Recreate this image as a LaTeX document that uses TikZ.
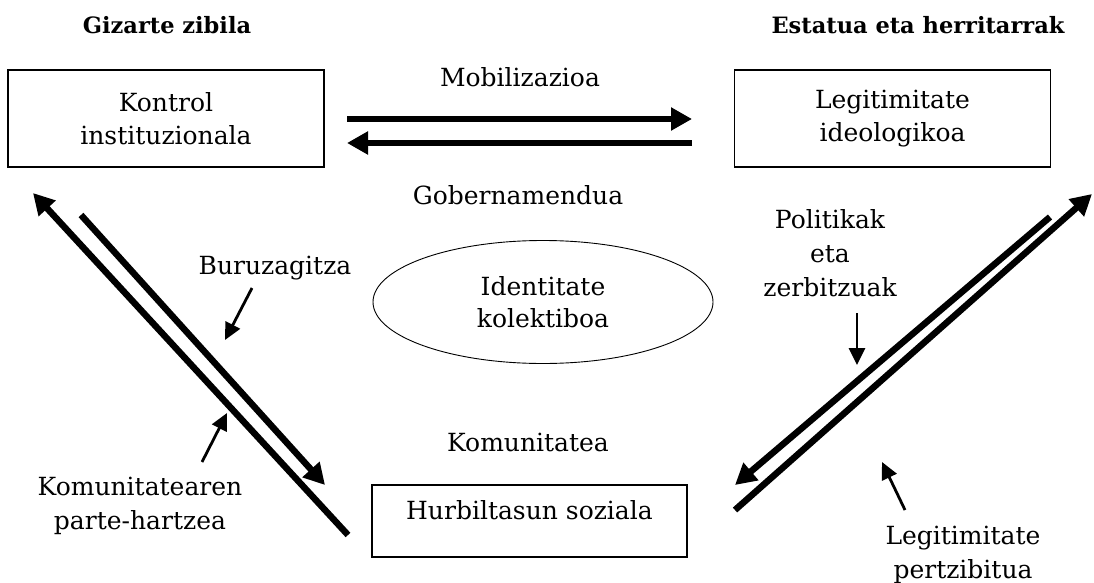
\documentclass[tikz,border=0pt]{standalone}
\usepackage{fontspec}
\setmainfont{DejaVu Serif}
\usetikzlibrary{arrows.meta,shapes.geometric}
\begin{document}
\begin{tikzpicture}[x=1pt,y=-1pt,
  lbl/.style={font=\fontsize{25}{34}\selectfont, align=center, inner sep=0pt},
  headtxt/.style={font=\fontsize{22.5}{25}\selectfont\bfseries, inner sep=0pt},
  bigbox/.style={draw, line width=1.5pt, minimum width=316pt, minimum height=97pt, align=center, font=\fontsize{25}{33}\selectfont},
  bigarrow/.style={line width=6.5pt, -{Triangle[length=21pt,width=22pt]}},
  smallarrow/.style={line width=2.8pt, -{Triangle[length=17pt,width=16pt]}},
]
\useasboundingbox (0,0) rectangle (1094,583);
\fill[white] (0,0) rectangle (1094,583);

% headings
\node[headtxt] (hG) at (167,25) {Gizarte zibila};
\node[headtxt] (hE) at (918,25) {Estatua eta herritarrak};

% boxes
\node[bigbox] (kontrol) at (166,118.5) {Kontrol\\instituzionala};
\node[bigbox] (legit) at (892.5,118.5) {Legitimitate\\ideologikoa};
\node[draw, line width=1.5pt, minimum width=315pt, inner ysep=0pt, text height=34pt, text depth=38pt,
      font=\fontsize{25}{33}\selectfont] (hurbil) at (529.5,521) {Hurbiltasun soziala};
\node[ellipse, draw, line width=0.9pt, minimum width=340pt, minimum height=123pt, inner sep=0pt,
      align=center, font=\fontsize{25}{32}\selectfont] (ident) at (543,302) {Identitate\\kolektiboa};

% labels
\node[lbl] (mob) at (520,77) {Mobilizazioa};
\node[lbl] (gob) at (518,195) {Gobernamendua};
\node[lbl] (buru) at (275,268) {Buruzagitza};
\node[lbl] (kpart) at (140,506) {Komunitatearen\\parte-hartzea};
\node[lbl] (polit) at (830,253) {Politikak\\eta\\zerbitzuak};
\node[lbl] (komun) at (528,442) {Komunitatea};
\node[lbl] (lpert) at (963,555) {Legitimitate\\pertzibitua};

% horizontal arrows
\coordinate (mA) at (347,119); \coordinate (mB) at (692,119);
\coordinate (gA) at (692,143); \coordinate (gB) at (347,143);
\draw[bigarrow] (mA) -- (mB);
\draw[bigarrow] (gA) -- (gB);

% left diagonals
\coordinate (l1s) at (348,535); \coordinate (l1e) at (33,193);
\coordinate (l2s) at (81,215);  \coordinate (l2e) at (325,485);
\draw[bigarrow] (l1s) -- (l1e);
\draw[bigarrow] (l2s) -- (l2e);

% right diagonals
\coordinate (r1s) at (1050,217); \coordinate (r1e) at (735,485);
\coordinate (r2s) at (735,510);  \coordinate (r2e) at (1092,194);
\draw[bigarrow] (r1s) -- (r1e);
\draw[bigarrow] (r2s) -- (r2e);

% small pointer arrows
\coordinate (bA) at (252,288); \coordinate (bB) at (225,340);
\coordinate (kA) at (202,462); \coordinate (kB) at (227,413);
\coordinate (pA) at (857,313); \coordinate (pB) at (857,365);
\coordinate (qA) at (905,510); \coordinate (qB) at (882,462);
\draw[smallarrow] (bA) -- (bB);
\draw[smallarrow] (kA) -- (kB);
\draw[smallarrow] (pA) -- (pB);
\draw[smallarrow] (qA) -- (qB);
\end{tikzpicture}
\end{document}
